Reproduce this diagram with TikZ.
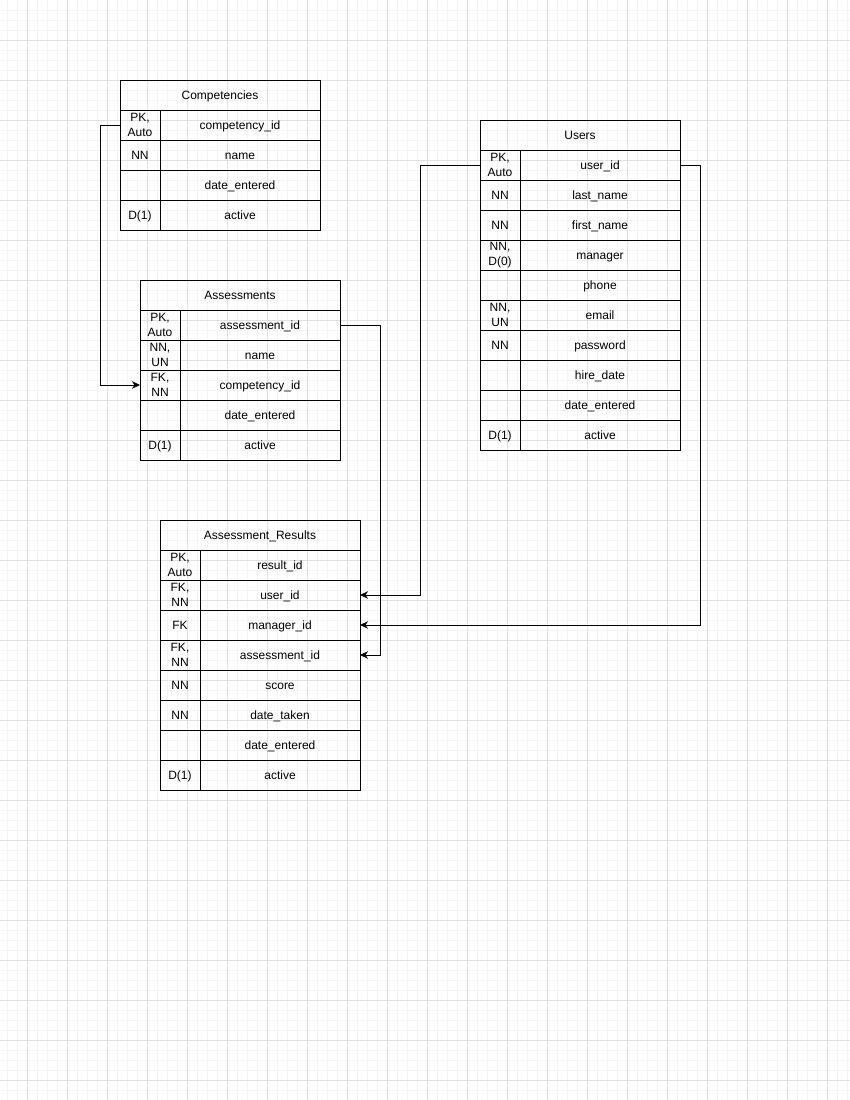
\documentclass[tikz,border=0pt]{standalone}
\usepackage{fontspec}
\setmainfont{Liberation Sans}
\usetikzlibrary{arrows.meta}
\newcommand\errow[5]{%
  \node[keycell] (#1k) at (#2,#3) {#4};
  \node[fieldcell] (#1f) at (#2+40,#3) {#5};}
\newcommand\errowtwo[5]{%
  \node[keycelltwo] (#1k) at (#2,#3) {#4};
  \node[fieldcell] (#1f) at (#2+40,#3) {#5};}
\tikzset{
  minorgrid/.style={draw={rgb,255:red,244;green,244;blue,244}, line width=0.8pt},
  majorgrid/.style={draw={rgb,255:red,224;green,224;blue,224}, line width=0.8pt},
  cell/.style={draw=black, line width=1pt, minimum height=30pt, inner sep=0pt, outer sep=0pt,
    anchor=north west, font=\fontsize{12}{14.4}\selectfont, align=center},
  single/.style={text height=9.8pt, text depth=1.6pt},
  keycelltwo/.style={cell, minimum width=40pt, text width=40pt},
  keycell/.style={cell, single, minimum width=40pt, text width=40pt},
  fieldcell/.style={cell, single, minimum width=160pt, text width=160pt},
  header/.style={cell, single, minimum width=200pt, text width=200pt},
  conn/.style={draw=black, line width=1pt, -{Stealth[length=8pt,width=7.5pt,inset=2.5pt]}}
}
\begin{document}
\begin{tikzpicture}[x=1pt,y=-1pt]
\useasboundingbox (0,0) rectangle (850,1100);
\fill[white] (0,0) rectangle (850,1100);
% grid
\foreach \x in {7,17,...,847} \draw[minorgrid] (\x,0) -- (\x,1100);
\foreach \y in {10,20,...,1090} \draw[minorgrid] (0,\y) -- (850,\y);
\foreach \x in {27,67,...,827} \draw[majorgrid] (\x,0) -- (\x,1100);
\foreach \y in {40,80,...,1080} \draw[majorgrid] (0,\y) -- (850,\y);

% Competencies
\node[header] (c0) at (120,80) {Competencies};
\errowtwo{c1}{120}{110}{PK,\\Auto}{competency\_id}
\errow{c2}{120}{140}{NN}{name}
\errow{c3}{120}{170}{}{date\_entered}
\errow{c4}{120}{200}{D(1)}{active}

% Assessments
\node[header] (a0) at (140,280) {Assessments};
\errowtwo{a1}{140}{310}{PK,\\Auto}{assessment\_id}
\errowtwo{a2}{140}{340}{NN,\\UN}{name}
\errowtwo{a3}{140}{370}{FK,\\NN}{competency\_id}
\errow{a4}{140}{400}{}{date\_entered}
\errow{a5}{140}{430}{D(1)}{active}

% Users
\node[header] (u0) at (480,120) {Users};
\errowtwo{u1}{480}{150}{PK,\\Auto}{user\_id}
\errow{u2}{480}{180}{NN}{last\_name}
\errow{u3}{480}{210}{NN}{first\_name}
\errowtwo{u4}{480}{240}{NN,\\D(0)}{manager}
\errow{u5}{480}{270}{}{phone}
\errowtwo{u6}{480}{300}{NN,\\UN}{email}
\errow{u7}{480}{330}{NN}{password}
\errow{u8}{480}{360}{}{hire\_date}
\errow{u9}{480}{390}{}{date\_entered}
\errow{u10}{480}{420}{D(1)}{active}

% Assessment_Results
\node[header] (r0) at (160,520) {Assessment\_Results};
\errowtwo{r1}{160}{550}{PK,\\Auto}{result\_id}
\errowtwo{r2}{160}{580}{FK,\\NN}{user\_id}
\errow{r3}{160}{610}{FK}{manager\_id}
\errowtwo{r4}{160}{640}{FK,\\NN}{assessment\_id}
\errow{r5}{160}{670}{NN}{score}
\errow{r6}{160}{700}{NN}{date\_taken}
\errow{r7}{160}{730}{}{date\_entered}
\errow{r8}{160}{760}{D(1)}{active}

% connectors
\draw[conn] (c1k.west) -- ++(-20,0) |- (a3k.west);
\draw[conn] (u1k.west) -- ++(-60,0) |- (r2f.east);
\draw[conn] (u1f.east) -- ++(20,0) |- (r3f.east);
\draw[conn] (a1f.east) -- ++(40,0) |- (r4f.east);
\end{tikzpicture}
\end{document}
